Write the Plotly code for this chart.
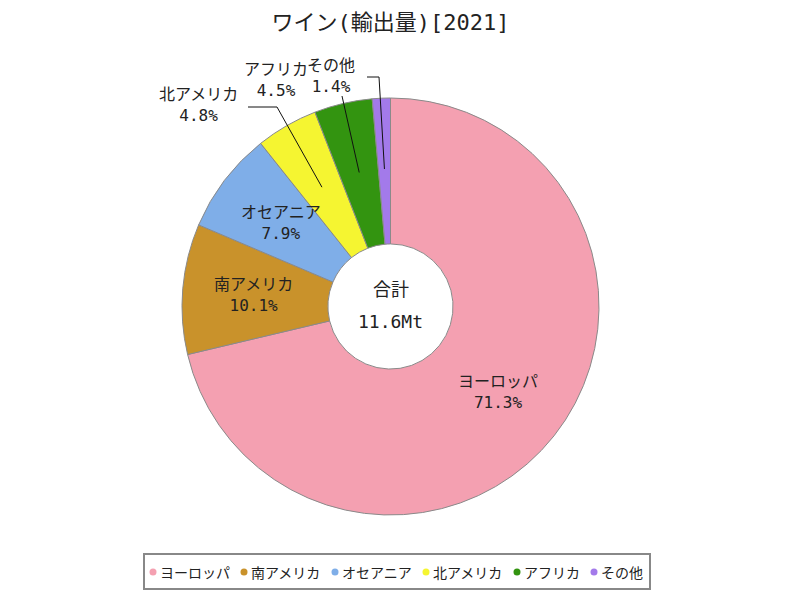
import math
import plotly.graph_objects as go

# ── Data ──────────────────────────────────────────────────────────────────────
regions = ["ヨーロッパ", "南アメリカ", "オセアニア", "北アメリカ", "アフリカ", "その他"]
shares = [71.3, 10.1, 7.9, 4.8, 4.5, 1.4]
colors = ["#F4A0B1", "#C9922B", "#7FAEE8", "#F5F531", "#339410", "#A37AEA"]
total_caption = "合計"
total_label = "11.6Mt"
title_text = "ワイン(輸出量)[2021]"

FONT = "DejaVu Sans Mono, Noto Sans CJK JP"
LEG_FONT = "Noto Sans CJK JP"
TXT = "#222222"

# ── Geometry (figure pixels; the html body adds an 8px offset) ────────────────
W, H = 800, 600
T, SIZE = 90, 417          # plot area top / height (square pie)
PIE_L = 174                # pie left edge
HOLE = 0.30
OFF = 8


def to_paper(px, py):
    """on-screen pixel -> paper coords"""
    return (px - OFF) / W, (T + SIZE - (py - OFF)) / SIZE


CX, CY = (PIE_L + SIZE / 2) / W, 0.5
RX, RY = (SIZE / 2) / W, 0.5


def slice_point(i, rfrac):
    total = sum(shares)
    start = sum(shares[:i]) / total
    mid = (start + shares[i] / total / 2) * 2 * math.pi
    return CX + RX * rfrac * math.sin(mid), CY + RY * rfrac * math.cos(mid)


fig = go.Figure()

fig.add_trace(go.Pie(
    labels=regions,
    values=shares,
    sort=False,
    direction="clockwise",
    rotation=0,
    hole=HOLE,
    marker=dict(colors=colors, line=dict(color="#8A8A8A", width=1)),
    textinfo="none",
    showlegend=False,
    domain=dict(x=[PIE_L / W, (PIE_L + SIZE) / W], y=[0, 1]),
))

annotations = []
shapes = []


def label(x, y, text, size, family=FONT, xanchor="center"):
    annotations.append(dict(
        x=x, y=y, xref="paper", yref="paper", showarrow=False,
        xanchor=xanchor, yanchor="middle",
        text=text, font=dict(size=size, color=TXT, family=family),
    ))


# inside labels
for i in range(3):
    x, y = slice_point(i, 0.66)
    label(x, y, f"{regions[i]}<br>{shares[i]:.1f}%", 16)

# outside labels with leader lines: (label centre, line start, elbow) in screen px
outside = {
    3: ((198, 105), (248, 107), (277, 107)),
    4: ((276, 80), (342, 96), (342, 96)),
    5: ((331, 76), (367, 77), (379, 77)),
}
for i, (lab, start, elbow) in outside.items():
    lx, ly = to_paper(*lab)
    label(lx, ly, f"{regions[i]}<br>{shares[i]:.1f}%", 16)
    tx, ty = slice_point(i, 0.66)
    sx, sy = to_paper(*start)
    ex, ey = to_paper(*elbow)
    shapes.append(dict(
        type="path", xref="paper", yref="paper",
        path=f"M {sx} {sy} L {ex} {ey} L {tx} {ty}",
        line=dict(color="#111111", width=1),
    ))

# centre text
for txt, dy in ((total_caption, 17.5), (total_label, -14.5)):
    annotations.append(dict(
        x=CX, y=CY, xref="paper", yref="paper", showarrow=False, yshift=dy,
        xanchor="center", yanchor="middle",
        text=txt, font=dict(size=18, color=TXT, family=FONT),
    ))

# ── Legend (boxed row at the bottom) ──────────────────────────────────────────
LEG_SIZE = 14
box_x0, box_y0 = to_paper(144, 554)
box_x1, box_y1 = to_paper(650, 589)
shapes.append(dict(
    type="rect", xref="paper", yref="paper",
    x0=box_x0, y0=box_y0, x1=box_x1, y1=box_y1,
    line=dict(color="#888888", width=2), fillcolor="#FFFFFF", layer="above",
))
_, leg_y = to_paper(0, 572)
cx = 153
for name, col in zip(regions, colors):
    px, _ = to_paper(cx, 0)
    shapes.append(dict(
        type="circle", xref="paper", yref="paper",
        xsizemode="pixel", ysizemode="pixel", xanchor=px, yanchor=leg_y,
        x0=-3.5, x1=3.5, y0=-3.5, y1=3.5,
        fillcolor=col, line=dict(width=0), layer="above",
    ))
    tx, _ = to_paper(cx + 5, 0)
    label(tx, leg_y, name, LEG_SIZE, family=LEG_FONT, xanchor="left")
    cx += 5 + LEG_SIZE * len(name) + 16

fig.update_layout(
    title=dict(
        text=title_text, x=CX, xref="paper", xanchor="center",
        y=1 - 14 / H, yref="container", yanchor="middle",
        font=dict(size=22, color=TXT, family=FONT),
    ),
    paper_bgcolor="#FFFFFF",
    plot_bgcolor="#FFFFFF",
    font=dict(family=FONT, color=TXT),
    showlegend=False,
    annotations=annotations,
    shapes=shapes,
    width=W,
    height=H,
    margin=dict(l=0, r=0, t=T, b=H - T - SIZE),
)

fig.write_html("out.html")
